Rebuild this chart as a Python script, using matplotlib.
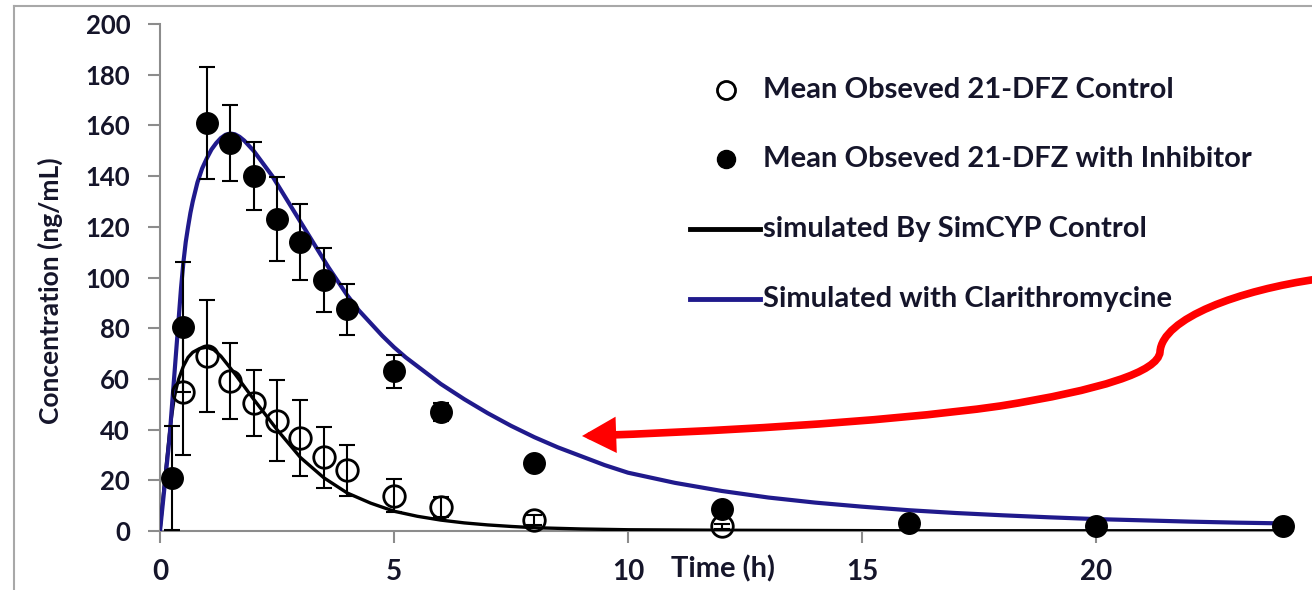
import matplotlib.pyplot as plt
from matplotlib.lines import Line2D
from matplotlib.patches import FancyArrowPatch, ArrowStyle
from matplotlib.path import Path

t_obs_ctrl = [0.5, 1, 1.5, 2, 2.5, 3, 3.5, 4, 5, 6, 8, 12]
ctrl_mean = [55, 69, 59, 50.5, 43.5, 36.5, 29, 24, 14, 9.5, 4.3, 1.8]
ctrl_sd = [25, 22, 15, 13, 16, 15, 12, 10, 6.5, 4, 2, 1]

t_obs_inh = [0.25, 0.5, 1, 1.5, 2, 2.5, 3, 3.5, 4, 5, 6, 8, 12, 16, 20, 24]
inh_mean = [21, 80.5, 161, 153, 140, 123, 114, 99, 87.5, 63, 47, 26.8, 8.5, 3, 1.8, 1.8]
inh_sd = [20.5, 25.5, 22, 15, 13.5, 16.5, 15, 12.5, 10, 6.5, 3.5, 0, 0, 0, 0, 0]

# simulated profiles
t_sim_ctrl = [0, 0.05, 0.1, 0.15, 0.2, 0.25, 0.3, 0.35, 0.4, 0.5, 0.6, 0.7, 0.85, 1.0,
              1.15, 1.3, 1.45, 1.6, 1.8, 2.0, 2.25, 2.5, 2.75, 3.0, 3.25, 3.5, 3.75,
              4.0, 4.5, 5.0, 5.5, 6.0, 6.5, 7.0, 7.5, 8.0, 9.0, 10, 12, 16, 20, 24]
sim_ctrl = [0, 10, 20, 29, 38, 45.5, 52, 56.5, 60, 65, 68.5, 70.5, 72, 72.5,
            71.5, 69, 65.5, 62, 57, 52, 46, 40, 34.5, 29, 25, 21, 18,
            15, 11, 7.8, 5.8, 4.3, 3.2, 2.4, 1.8, 1.3, 0.8, 0.5, 0.3, 0.1, 0.1, 0.1]

t_sim_inh = [0, 0.1, 0.2, 0.3, 0.35, 0.4, 0.45, 0.5, 0.55, 0.6, 0.65, 0.7, 0.8, 0.9,
             1.0, 1.1, 1.2, 1.3, 1.4, 1.5, 1.6, 1.7, 1.8, 1.9, 2.0, 2.2, 2.4, 2.6,
             2.8, 3.0, 3.2, 3.4, 3.6, 3.8, 4.0, 4.25, 4.5, 4.75, 5.0, 5.25, 5.5,
             5.75, 6.0, 6.5, 7.0, 7.5, 8.0, 8.5, 9.0, 9.5, 10, 11, 12, 13, 14, 15,
             16, 17, 18, 19, 20, 21, 22, 23, 24]
sim_inh = [0, 18, 36, 60, 72, 84, 96, 106, 114, 120, 125.5, 130, 137.5, 143,
           147, 150.5, 153, 155, 156.3, 156.8, 156.5, 155.5, 154, 152, 150, 145, 140, 134,
           128, 122, 116, 110, 104, 98.5, 93, 87, 82, 77, 72.5, 68.5, 65,
           61.5, 58, 52, 46.5, 41.5, 37, 33, 29.5, 26, 23, 19, 15.8, 13.2, 11.2, 9.6,
           8.2, 7.1, 6.2, 5.4, 4.7, 4.2, 3.7, 3.3, 3]

legend_labels = ['Mean Obseved 21-DFZ Control',
                 'Mean Obseved 21-DFZ with Inhibitor',
                 'simulated By SimCYP Control',
                 'Simulated with Clarithromycine']

FONT = 'Lato'
TXT = '#15152a'
GREY = '#8c8c8c'
BLUE = '#201a8c'

plt.rcParams['font.family'] = [FONT, 'DejaVu Sans']
plt.rcParams['font.weight'] = 'bold'
plt.rcParams['axes.labelweight'] = 'bold'

W, H = 1312, 590
fig = plt.figure(figsize=(W / 100, H / 100), dpi=100)
ax = fig.add_axes([160 / W, 1 - 531 / H, 1132.6 / W, 507 / H])

ax.plot(t_sim_ctrl, sim_ctrl, color='black', lw=2.4, zorder=3)
ax.plot(t_sim_inh, sim_inh, color=BLUE, lw=3, zorder=3)

ax.errorbar(t_obs_ctrl, ctrl_mean, yerr=ctrl_sd, fmt='none', ecolor='black',
            elinewidth=1.5, capsize=5.5, capthick=1.5, zorder=4)
ax.errorbar(t_obs_inh, inh_mean, yerr=inh_sd, fmt='none', ecolor='black',
            elinewidth=1.5, capsize=5.5, capthick=1.5, zorder=4)
ax.plot(t_obs_ctrl, ctrl_mean, 'o', ms=15.5, mfc='none', mec='black', mew=2,
        zorder=5, clip_on=False)
ax.plot(t_obs_inh, inh_mean, 'o', ms=15.5, mfc='black', mec='black',
        zorder=5, clip_on=False)

ax.set_xlim(0, 24.2)
ax.set_ylim(0, 200)
ax.set_xticks([0, 5, 10, 15, 20])
ax.set_yticks(range(0, 201, 20))
for s in ['top', 'right']:
    ax.spines[s].set_visible(False)
for s in ['left', 'bottom']:
    ax.spines[s].set_color(GREY)
    ax.spines[s].set_linewidth(1.5)
ax.tick_params(axis='both', direction='out', length=8.5, width=1.5, color=GREY,
               labelcolor=TXT)
ax.tick_params(axis='y', labelsize=18.5, pad=13)
ax.tick_params(axis='x', labelsize=20, pad=12)

ax.set_xlabel('Time (h)', fontsize=21, color=TXT)
ax.xaxis.set_label_coords((723 - 160) / 1132.6, (531 - 555) / 507)
ax.set_ylabel('Concentration (ng/mL)', fontsize=19, color=TXT)
ax.yaxis.label.set_va('center')
ax.yaxis.set_label_coords((50 - 160) / 1132.6, (531 - 291) / 507)

# legend drawn by hand to keep the wide row spacing of the original
rows_y = [90, 159, 229, 299]
fx = lambda x: x / W
fy = lambda y: 1 - y / H
fig.add_artist(Line2D([fx(726)], [fy(rows_y[0])], marker='o', ms=13, mfc='none',
                      mec='black', mew=2))
fig.add_artist(Line2D([fx(726)], [fy(rows_y[1])], marker='o', ms=13, mfc='black',
                      mec='black'))
fig.add_artist(Line2D([fx(690), fx(760)], [fy(rows_y[2])] * 2, color='black', lw=3.5))
fig.add_artist(Line2D([fx(690), fx(760)], [fy(rows_y[3])] * 2, color=BLUE, lw=3.5))
for y, lab in zip(rows_y, legend_labels):
    fig.text(fx(763), fy(y), lab, fontsize=21, color=TXT, ha='left', va='center')

# chart frame (left and top edges visible)
fig.add_artist(Line2D([fx(13.5), fx(13.5)], [fy(6), fy(600)], color='#a8a8a8', lw=1.5))
fig.add_artist(Line2D([fx(13.5), fx(1320)], [fy(6), fy(6)], color='#a8a8a8', lw=1.5))

# red curved arrow pointing to the simulated inhibitor curve
pts = [(1318, 279), (1240, 290), (1162, 318), (1160, 352),
       (1158, 372), (1100, 390), (1000, 406),
       (880, 423), (700, 432), (582, 436)]
codes = [Path.MOVETO] + [Path.CURVE4] * 9
arrow_path = Path([(fx(x), fy(y)) for x, y in pts], codes)
arrow = FancyArrowPatch(path=arrow_path, transform=fig.transFigure,
                        arrowstyle=ArrowStyle('-|>', head_length=16, head_width=8.5),
                        mutation_scale=1, color='#ff0000', lw=5.5, joinstyle='miter')
fig.add_artist(arrow)

fig.savefig('out.png', dpi=100)
